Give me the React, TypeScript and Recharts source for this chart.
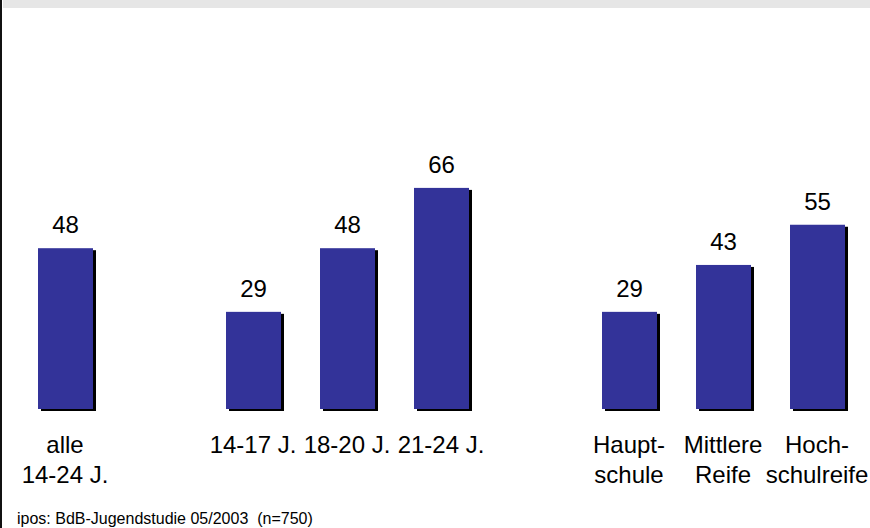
import { BarChart, Bar, XAxis, YAxis, LabelList } from 'recharts';

// categories ('' = gap between groups), '\n' splits the tick label into lines
const categories = ['alle\n14-24 J.', '', '14-17 J.', '18-20 J.', '21-24 J.', ' ', 'Haupt-\nschule', 'Mittlere\nReife', 'Hoch-\nschulreife'];
const shares = [48, null, 29, 48, 66, null, 29, 43, 55];
const source = 'ipos: BdB-Jugendstudie 05/2003  (n=750)';

const data = categories.map((name, i) => ({ name, value: shares[i] }));

const FONT = '"Liberation Sans", Arial, sans-serif';
const BLUE = '#333399';

const ShadowBar = (props: any) => {
  const { x, y, width, height } = props;
  if (!height || height <= 0) return null;
  return (
    <g>
      <rect x={x + 3} y={y + 2} width={width} height={height} fill="#000000" />
      <rect x={x} y={y} width={width} height={height} fill={BLUE} />
    </g>
  );
};

const MultiLineTick = (props: any) => {
  const { x, y, payload } = props;
  const lines = String(payload.value).split('\n');
  return (
    <text x={x} y={y} textAnchor="middle" fill="#000000" fontSize={24} fontFamily={FONT}>
      {lines.map((line, i) => (
        <tspan key={i} x={x} dy={i === 0 ? 44 : 30}>
          {line}
        </tspan>
      ))}
    </text>
  );
};

const App = () => {
  return (
    <div style={{ position: 'fixed', left: 0, top: 0, width: 870, height: 528, background: '#ffffff', fontFamily: FONT }}>
      <div style={{ position: 'absolute', left: 3, top: 0, width: 867, height: 8, background: '#e6e6e6' }} />
      <div style={{ position: 'absolute', left: 0, top: 0, width: 2, height: 528, background: '#111111' }} />
      <BarChart
        width={870}
        height={528}
        data={data}
        margin={{ top: 74, right: 6, bottom: 49, left: 18 }}
        barSize={55}
      >
        <XAxis
          dataKey="name"
          axisLine={false}
          tickLine={false}
          tickSize={0}
          tickMargin={0}
          height={70}
          interval={0}
          tick={<MultiLineTick />}
        />
        <YAxis hide domain={[0, 100]} />
        <Bar dataKey="value" shape={<ShadowBar />} isAnimationActive={false}>
          <LabelList dataKey="value" position="top" offset={15} fill="#000000" fontSize={24} fontFamily={FONT} />
        </Bar>
      </BarChart>
      <div style={{ position: 'absolute', left: 17, top: 511, fontSize: 16, color: '#000000', whiteSpace: 'pre', lineHeight: '16px' }}>
        {source}
      </div>
    </div>
  );
};

export default App;
